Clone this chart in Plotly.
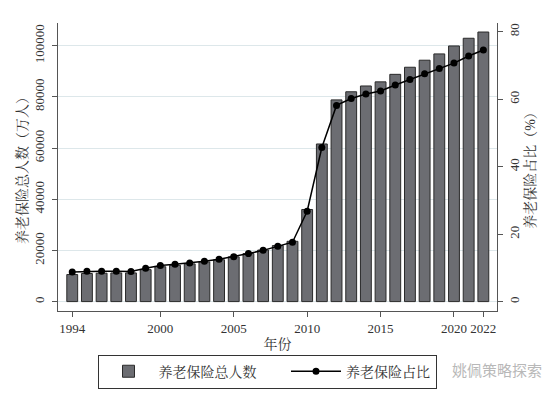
import plotly.graph_objects as go

years = list(range(1994, 2023))
insured_total = [10573.5, 10979, 11116.7, 11203.9, 11203.1, 12485.4, 13617.4, 14182.5,
                 14736.6, 15506.7, 16352.9, 17487.9, 18766.3, 20136.9, 21891.1, 23549.9,
                 35984.1, 61573, 78796, 81968, 84232, 85833, 88777, 91548, 94293, 96754,
                 99865, 102871, 105307]
insured_share = [8.82, 9.06, 9.08, 9.06, 8.98, 9.93, 10.74, 11.11, 11.47, 12.00, 12.58,
                 13.37, 14.28, 15.24, 16.48, 17.65, 26.84, 45.70, 58.19, 60.24, 61.58,
                 62.44, 64.21, 65.86, 67.58, 69.11, 70.72, 72.82, 74.59]
x_ticks = [1994, 2000, 2005, 2010, 2015, 2020, 2022]
y_ticks = [0, 20000, 40000, 60000, 80000, 100000]
y_ticklabels = ["0", "20000", "40000", "60000", "80000", "100000"]
y2_ticks = [0, 20, 40, 60, 80]

FONT = "Liberation Serif, Noto Serif CJK SC, Noto Sans CJK SC, serif"
TXT = "#333333"

fig = go.Figure()
fig.add_trace(go.Bar(
    x=years, y=insured_total, name="养老保险总人数" + "\u00a0" * 7,
    marker=dict(color="#6c6d72", line=dict(color="#2a2a2a", width=1)),
    width=0.74, yaxis="y"))
fig.add_trace(go.Scatter(
    x=years, y=insured_share, name="养老保险占比", mode="lines+markers",
    line=dict(color="black", width=1.5),
    marker=dict(color="black", size=7), yaxis="y2"))

axis_common = dict(showline=True, linecolor="#555555", linewidth=1.2,
                   ticks="outside", ticklen=5, tickcolor="#555555",
                   tickfont=dict(size=13, color=TXT, family=FONT), zeroline=False)

fig.update_layout(
    width=550, height=393,
    margin=dict(l=50, r=61, t=15, b=81),
    paper_bgcolor="white", plot_bgcolor="white",
    font=dict(family=FONT, color=TXT),
    xaxis=dict(range=[1993.03, 2022.93], tickvals=x_ticks, showgrid=False,
               title=dict(text="年份", font=dict(size=14, color=TXT), standoff=4),
               **axis_common),
    yaxis=dict(range=[-3670, 108830], tickvals=y_ticks, ticktext=y_ticklabels,
               tickangle=-90, showgrid=True, gridcolor="#dde7ea", gridwidth=1,
               ticklabelstandoff=3,
               title=dict(text="养老保险总人数（万人）", font=dict(size=14, color=TXT),
                          standoff=0),
               **axis_common),
    yaxis2=dict(range=[-2.73, 82.6], tickvals=y2_ticks, tickangle=-90,
                overlaying="y", side="right", showgrid=False,
                title=dict(text="养老保险占比（%）", font=dict(size=14, color=TXT),
                           standoff=4),
                **axis_common),
    legend=dict(orientation="h", x=(259 - 50) / 439, xanchor="center",
                y=(312 - 357) / 297, yanchor="top",
                bordercolor="#333333", borderwidth=1, bgcolor="white",
                font=dict(size=14, family=FONT, color=TXT), itemwidth=50,
                tracegroupgap=0),
    showlegend=True,
)

fig.add_annotation(text="姚佩策略探索", xref="paper", yref="paper",
                   x=(442 - 50) / 439, xanchor="left",
                   y=(312 - 372) / 297, yanchor="middle", showarrow=False,
                   font=dict(size=15, color="#b8b8b8", family="Noto Sans CJK SC"))

fig.write_html("out.html")
